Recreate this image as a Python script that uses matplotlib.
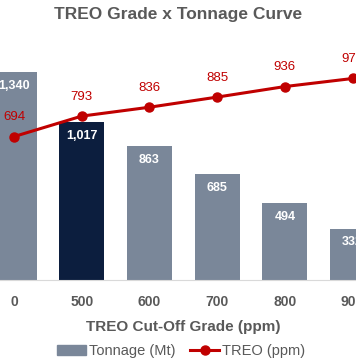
import numpy as np
import matplotlib.pyplot as plt
from matplotlib.lines import Line2D
from matplotlib.patches import Patch

plt.rcParams['font.family'] = ['Liberation Sans', 'DejaVu Sans']

# data
cutoff = ["0", "500", "600", "700", "800", "900"]
tonnage = [1340, 1017, 863, 685, 494, 332]
treo = [694, 793, 836, 885, 936, 975]

bar_grey = "#7A8799"
navy = "#0C1E3E"
red = "#C00000"
txt = "#595959"

colors = [bar_grey] * len(cutoff)
colors[1] = navy

fig = plt.figure(figsize=(3.56, 3.64), dpi=100)
ax = fig.add_axes([0, 84 / 364, 1, 248 / 364])

x = np.arange(len(cutoff))
bars = ax.bar(x, tonnage, width=0.665, color=colors, zorder=2)
ax.set_ylim(0, 1600)
ax.set_xlim(-0.207, 5.051)

for xi, v in zip(x, tonnage):
    ax.annotate(f"{v:,}", (xi, v), xytext=(0, -10), textcoords="offset points",
                ha="center", va="center", color="white", fontsize=9, fontweight="bold")

ax2 = ax.twinx()
ax2.set_ylim(0, 1200)
ax2.plot(x, treo, color=red, lw=2.2, marker="o", ms=6.5, zorder=3)
for xi, v in zip(x, treo):
    ax2.annotate(f"{v}", (xi, v), xytext=(0, 14), textcoords="offset points",
                 ha="center", va="center", color=red, fontsize=9.5)

for a in (ax, ax2):
    for s in ("top", "right", "left"):
        a.spines[s].set_visible(False)
    a.set_yticks([])
ax2.spines["bottom"].set_visible(False)
ax.spines["bottom"].set_color("#D9D9D9")

ax.set_xticks(x)
ax.set_xticklabels(cutoff, fontsize=10, fontweight="bold", color=txt)
ax.tick_params(axis="x", length=0, pad=11)

fig.text(0.5, 1 - 15 / 364, "TREO Grade x Tonnage Curve", ha="center", va="center",
         fontsize=12.5, fontweight="bold", color=txt)
fig.text(183 / 356, 1 - 327 / 364, "TREO Cut-Off Grade (ppm)", ha="center", va="center",
         fontsize=11, fontweight="bold", color=txt)

handles = [Patch(color=bar_grey),
           Line2D([], [], color=red, lw=2.2, marker="o", ms=6.5)]
fig.legend(handles, ["Tonnage (Mt)", "TREO (ppm)"], loc="center", ncol=2,
           bbox_to_anchor=(181 / 356, 1 - 351 / 364), frameon=False,
           fontsize=10.5, labelcolor=txt, handlelength=2, handletextpad=0.2,
           columnspacing=1.0)

fig.savefig("out.png", dpi=100)
